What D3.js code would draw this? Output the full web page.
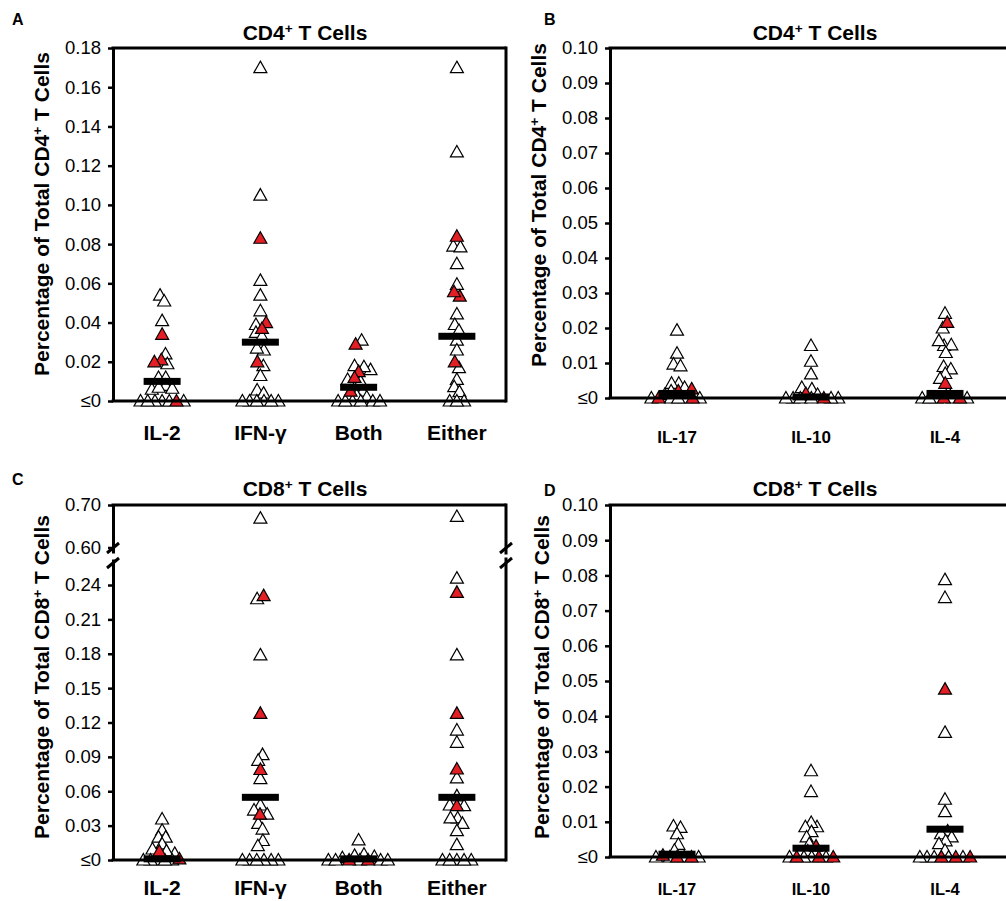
<!DOCTYPE html>
<meta charset="utf-8">
<style>
body { margin: 0; background: #fff; }
svg { font-family: "Liberation Sans", Arial, sans-serif; }
.tick text { font-size: 18.5px; fill: #000; }
.tick line { stroke: #000; stroke-width: 2.5; }
.domain { stroke: #000; stroke-width: 3; }
.frame { stroke: #000; stroke-width: 3; fill: none; }
.title { font-size: 21px; font-weight: bold; text-anchor: middle; }
.ylab { font-size: 21px; font-weight: bold; text-anchor: middle; }
.xlab { font-weight: bold; text-anchor: middle; }
.letter { font-size: 16px; font-weight: bold; }
.tri { stroke: #000; stroke-width: 1.2; }
</style>
<svg width="1006" height="901"></svg>
<script src="https://cdn.jsdelivr.net/npm/d3@7"></script>
<script>

// categories
var cytoA = ["IL-2", "IFN-γ", "Both", "Either"],
    cytoB = ["IL-17", "IL-10", "IL-4"];

// panel A: CD4, IL-2 / IFN-g
var aWhite = [
  [0.054, 0.051, 0.041, 0.024, 0.019, 0.012, 0.012, 0.008, 0.006, 0.0065, 0.007, 0, 0, 0, 0, 0, 0],
  [0.170, 0.105, 0.0615, 0.054, 0.046, 0.039, 0.035, 0.033, 0.026, 0.027, 0.018, 0.013, 0.0056, 0.004, 0, 0, 0, 0, 0, 0],
  [0.031, 0.018, 0.016, 0.0175, 0.011, 0.010, 0.005, 0.003, 0.002, 0, 0, 0, 0, 0, 0],
  [0.170, 0.127, 0.079, 0.0786, 0.070, 0.0595, 0.0444, 0.039, 0.036, 0.031, 0.026, 0.017, 0.011, 0.0073, 0.0048, 0, 0, 0]
];
var aRed = [
  [0.034, 0.021, 0.020, 0],
  [0.083, 0.040, 0.037, 0.020],
  [0.029, 0.015, 0.012, 0.005],
  [0.084, 0.0535, 0.0557, 0.020]
];
var aMedian = [0.010, 0.030, 0.007, 0.033];
var aTicks = [0, 0.02, 0.04, 0.06, 0.08, 0.10, 0.12, 0.14, 0.16, 0.18];

// panel B: CD4, IL-17 / IL-10 / IL-4
var bWhite = [
  [0.0194, 0.0128, 0.0097, 0.0092, 0.0042, 0.0042, 0.003, 0.002, 0.001, 0, 0, 0, 0, 0],
  [0.015, 0.0105, 0.0069, 0.0026, 0.003, 0.001, 0, 0, 0, 0, 0, 0],
  [0.0242, 0.020, 0.015, 0.0164, 0.0152, 0.013, 0.009, 0.0083, 0.007, 0.0056, 0.0016, 0, 0, 0, 0, 0]
];
var bRed = [
  [0.0026, 0.002, 0, 0],
  [0.0013, 0],
  [0.0216, 0.0042, 0, 0]
];
var bMedian = [0.0013, 0.0003, 0.0013];
var bdTicks = [0, 0.01, 0.02, 0.03, 0.04, 0.05, 0.06, 0.07, 0.08, 0.09, 0.10];

// panel C: CD8, IL-2 / IFN-g (broken axis)
var cWhite = [
  [0.0358, 0.026, 0.020, 0.020, 0.014, 0.0096, 0.0058, 0.008, 0, 0, 0, 0, 0],
  [0.669, 0.228, 0.179, 0.092, 0.087, 0.071, 0.048, 0.0436, 0.040, 0.032, 0.027, 0.017, 0.0125, 0, 0, 0, 0, 0, 0],
  [0.0175, 0.003, 0.004, 0.002, 0.005, 0, 0, 0, 0, 0],
  [0.673, 0.246, 0.179, 0.1134, 0.1027, 0.0716, 0.056, 0.048, 0.0474, 0.0367, 0.0367, 0.032, 0.0256, 0.0134, 0, 0, 0, 0, 0]
];
var cRed = [
  [0.0076, 0.001],
  [0.2307, 0.128, 0.079, 0.040],
  [0, 0],
  [0.2336, 0.128, 0.0794, 0.0474]
];
var cMedian = [0.001, 0.0547, 0.001, 0.0547];
var cTicksLow = [0, 0.03, 0.06, 0.09, 0.12, 0.15, 0.18, 0.21, 0.24],
    cTicksHigh = [0.60, 0.70];

// panel D: CD8, IL-17 / IL-10 / IL-4
var dWhite = [
  [0.0088, 0.0084, 0.0066, 0.0036, 0.0019, 0, 0, 0, 0],
  [0.0245, 0.0186, 0.0086, 0.0098, 0.0086, 0.0072, 0.0057, 0.0038, 0.0017, 0, 0, 0, 0],
  [0.0788, 0.0737, 0.0354, 0.0129, 0.0164, 0.0074, 0.0066, 0.0057, 0.0046, 0.0038, 0.0019, 0, 0, 0, 0, 0]
];
var dRed = [
  [0, 0, 0.0005],
  [0.0031, 0, 0, 0],
  [0.0477, 0, 0, 0]
];
var dMedian = [0.0008, 0.0025, 0.0079];

var svg = d3.select("svg");
var fmt = function(v) { return v === 0 ? "≤0" : d3.format(".2f")(v); };
var tri = "M0,-6.5L6.5,5L-6.5,5Z";

function supText(sel, a, b) {
  sel.append("tspan").text(a);
  sel.append("tspan").attr("baseline-shift", "super").attr("font-size", "65%").text("+");
  sel.append("tspan").text(b);
}

function panel(p) {
  var g = svg.append("g");
  var x = d3.scaleBand().domain(p.cats).range([p.x0, p.x1]);
  var cx = function(c) { return x(c) + x.bandwidth() / 2; };

  // y axes (one or two segments)
  p.axes.forEach(function(a) {
    var ax = g.append("g")
        .attr("transform", "translate(" + p.x0 + ",0)")
        .call(d3.axisLeft(a.scale).tickValues(a.ticks).tickSize(5).tickSizeOuter(0).tickPadding(7).tickFormat(fmt));
    ax.attr("font-size", null).attr("font-family", null);
  });

  // points, spread sideways so they don't pile up
  var nodes = [];
  p.cats.forEach(function(c, i) {
    p.white[i].forEach(function(v) { nodes.push({c: c, v: v, red: false}); });
    p.red[i].forEach(function(v) { nodes.push({c: c, v: v, red: true}); });
  });
  nodes.forEach(function(d, i) {
    d.y = d.fy = p.y(d.v);
    d.x = cx(d.c) + ((i * 7) % 11 - 5);
  });
  var sim = d3.forceSimulation(nodes)
      .force("x", d3.forceX(function(d) { return cx(d.c); }).strength(0.07))
      .force("collide", d3.forceCollide(3.6))
      .stop();
  for (var k = 0; k < 250; k++) sim.tick();

  g.selectAll(".tri")
    .data(nodes)
    .enter().append("path")
      .attr("class", "tri")
      .attr("d", tri)
      .attr("fill", function(d) { return d.red ? "#e31e24" : "#fff"; })
      .attr("transform", function(d) { return "translate(" + d.x + "," + d.y + ")"; });

  // medians
  g.selectAll(".med")
    .data(p.median)
    .enter().append("rect")
      .attr("x", function(m, i) { return cx(p.cats[i]) - 18.5; })
      .attr("y", function(m) { return p.y(m) - 3.5; })
      .attr("width", 37)
      .attr("height", 7)
      .attr("fill", "#000");

  // frame
  g.append("line").attr("class", "frame")
      .attr("x1", p.x0 - 1.5).attr("x2", p.x1).attr("y1", p.top).attr("y2", p.top);
  g.append("line").attr("class", "frame")
      .attr("x1", p.x0 - 1.5).attr("x2", p.x1).attr("y1", p.y(0)).attr("y2", p.y(0));
  if (p.right) {
    (p.segments || [[p.top, p.y(0)]]).forEach(function(s) {
      g.append("line").attr("class", "frame")
          .attr("x1", p.x1).attr("x2", p.x1).attr("y1", s[0] - 1.5).attr("y2", s[1] + 1.5);
    });
  }
  (p.breaks || []).forEach(function(b) {
    [p.x0, p.x1].forEach(function(xx) {
      g.append("line").attr("class", "frame").attr("stroke-width", 2.5)
          .attr("x1", xx - 6).attr("x2", xx + 6).attr("y1", b + 5).attr("y2", b - 5);
    });
  });

  // labels
  g.selectAll(".xlab")
    .data(p.cats)
    .enter().append("text")
      .attr("class", "xlab")
      .attr("font-size", p.xSize)
      .attr("x", cx)
      .attr("y", p.xlabY)
      .text(function(d) { return d; });

  g.append("text").attr("class", "title")
      .attr("x", p.titleX).attr("y", p.titleY)
      .call(supText, p.cell, " T Cells");

  g.append("text").attr("class", "ylab")
      .attr("transform", "translate(" + p.ylabX + "," + p.ylabY + ") rotate(-90)")
      .call(supText, "Percentage of Total " + p.cell, " T Cells");

  g.append("text").attr("class", "letter")
      .attr("x", p.letterX).attr("y", p.letterY).text(p.letter);
}

// A
var yA = d3.scaleLinear().domain([0, 0.18]).range([401, 48]);
panel({cats: cytoA, white: aWhite, red: aRed, median: aMedian, x0: 113, x1: 506, top: 48,
  y: yA, axes: [{scale: yA, ticks: aTicks}], right: true,
  xSize: 21, xlabY: 440, cell: "CD4", titleX: 305, titleY: 40, ylabX: 49, ylabY: 214,
  letter: "A", letterX: 12, letterY: 25});

// B
var yB = d3.scaleLinear().domain([0, 0.10]).range([398, 48]);
panel({cats: cytoB, white: bWhite, red: bRed, median: bMedian, x0: 610, x1: 1012, top: 48,
  y: yB, axes: [{scale: yB, ticks: bdTicks}], right: false,
  xSize: 17, xlabY: 443, cell: "CD4", titleX: 815, titleY: 40, ylabX: 546, ylabY: 205,
  letter: "B", letterX: 544, letterY: 25});

// C (broken axis)
var yCLow = d3.scaleLinear().domain([0, 0.2627]).range([860, 559]),
    yCHigh = d3.scaleLinear().domain([0.587, 0.70]).range([553, 505]);
var yC = function(v) { return v > 0.4 ? yCHigh(v) : yCLow(v); };
panel({cats: cytoA, white: cWhite, red: cRed, median: cMedian, x0: 113, x1: 506, top: 505,
  y: yC, axes: [{scale: yCLow, ticks: cTicksLow}, {scale: yCHigh, ticks: cTicksHigh}], right: true,
  segments: [[505, 553], [559, 860]], breaks: [548, 563],
  xSize: 21, xlabY: 895, cell: "CD8", titleX: 305, titleY: 496, ylabX: 49, ylabY: 677,
  letter: "C", letterX: 12, letterY: 485});

// D
var yD = d3.scaleLinear().domain([0, 0.10]).range([857, 505]);
panel({cats: cytoB, white: dWhite, red: dRed, median: dMedian, x0: 610, x1: 1012, top: 505,
  y: yD, axes: [{scale: yD, ticks: bdTicks}], right: false,
  xSize: 16.5, xlabY: 895, cell: "CD8", titleX: 815, titleY: 496, ylabX: 549, ylabY: 677,
  letter: "D", letterX: 544, letterY: 496});

</script>
